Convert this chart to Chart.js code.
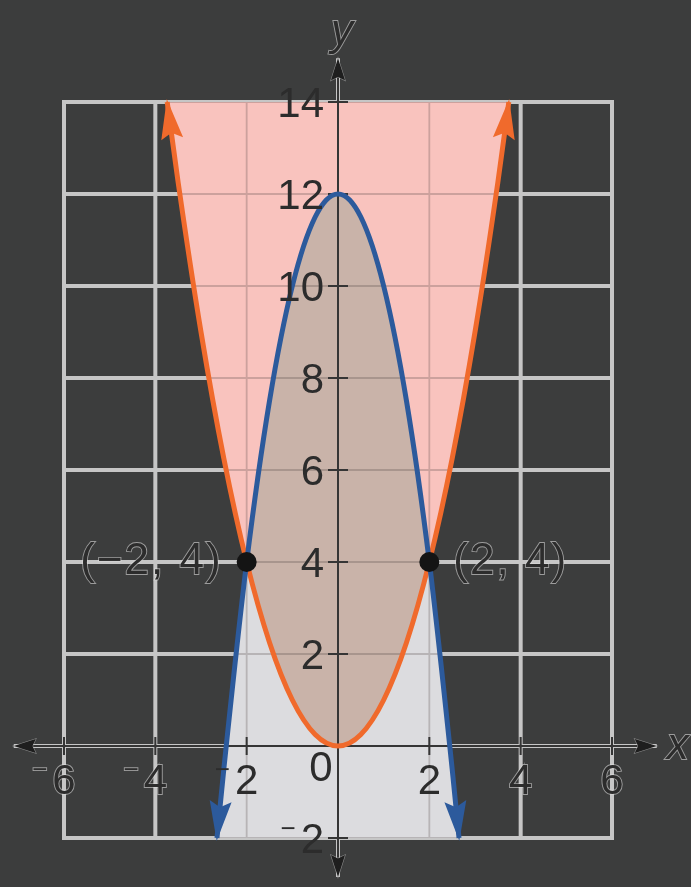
<!DOCTYPE html>
<html>
<head>
<meta charset="utf-8">
<title>y ≥ x² and y ≤ −2x² + 12</title>
<script src="https://cdn.jsdelivr.net/npm/chart.js@4.4.1/dist/chart.umd.min.js"></script>
<style>
  html, body { margin: 0; padding: 0; background: #3c3d3d; }
  canvas { display: block; }
</style>
</head>
<body>
<canvas id="graph" width="691" height="887"></canvas>
<script>
// orange curve, y = x^2 (shaded above)
const orangeX = [-3.74, -3.5, -3, -2.5, -2, -1.5, -1, -0.5, 0, 0.5, 1, 1.5, 2, 2.5, 3, 3.5, 3.74];
const orangeY = [14, 12.25, 9, 6.25, 4, 2.25, 1, 0.25, 0, 0.25, 1, 2.25, 4, 6.25, 9, 12.25, 14];

// blue curve, y = -2x^2 + 12 (shaded below)
const blueX = [-2.65, -2.5, -2, -1.5, -1, -0.5, 0, 0.5, 1, 1.5, 2, 2.5, 2.65];
const blueY = [-2, -0.5, 4, 7.5, 10, 11.5, 12, 11.5, 10, 7.5, 4, -0.5, -2];

// region where both hold, between the curves
const bothX = [-2, -1.5, -1, -0.5, 0, 0.5, 1, 1.5, 2];
const bothLow = [4, 2.25, 1, 0.25, 0, 0.25, 1, 2.25, 4];
const bothHigh = [4, 7.5, 10, 11.5, 12, 11.5, 10, 7.5, 4];

// intersection points
const pointX = [-2, 2];
const pointY = [4, 4];
const pointLabels = ['(−2, 4)', '(2, 4)'];

// grid and tick labels
const gridX = [-6, -4, -2, 0, 2, 4, 6];
const gridY = [-2, 0, 2, 4, 6, 8, 10, 12, 14];
const xTickLabels = [-6, -4, -2, 2, 4, 6];
const yTickLabels = [-2, 2, 4, 6, 8, 10, 12, 14];
const originLabel = '0';
const axisEnds = { xMin: -7.1, xMax: 6.98, yMin: -2.85, yMax: 14.95 };

const BG = '#3c3d3d';
const ORANGE = '#f06a2c';
const BLUE = '#2c5a9c';
const FONT = '"Liberation Sans", Arial, sans-serif';

const toPoints = (xs, ys) => xs.map((x, i) => ({ x, y: ys[i] }));

function drawGrid(ctx, sx, sy, width, color) {
  const top = sy.getPixelForValue(gridY[gridY.length - 1]);
  const bottom = sy.getPixelForValue(gridY[0]);
  const left = sx.getPixelForValue(gridX[0]);
  const right = sx.getPixelForValue(gridX[gridX.length - 1]);
  ctx.lineWidth = width;
  ctx.strokeStyle = color;
  ctx.beginPath();
  gridX.forEach(v => {
    const px = sx.getPixelForValue(v);
    ctx.moveTo(px, top - width / 2);
    ctx.lineTo(px, bottom + width / 2);
  });
  gridY.forEach(v => {
    const py = sy.getPixelForValue(v);
    ctx.moveTo(left - width / 2, py);
    ctx.lineTo(right + width / 2, py);
  });
  ctx.stroke();
}

function drawText(ctx, s, x, y, halo) {
  if (halo) {
    ctx.lineWidth = 1.8;
    ctx.strokeStyle = 'rgba(220,220,220,0.6)';
    ctx.strokeText(s, x, y);
  }
  ctx.fillStyle = '#2c2c2c';
  ctx.fillText(s, x, y);
}

// digits placed on the tick, a small raised minus hung to their left
function tickLabel(ctx, value, px, baseline, align, halo) {
  ctx.font = '42px ' + FONT;
  const digits = String(Math.abs(value));
  const w = ctx.measureText(digits).width;
  const left = align === 'center' ? px - w / 2 : px - w;
  ctx.textAlign = 'left';
  ctx.textBaseline = 'alphabetic';
  drawText(ctx, digits, left, baseline, halo);
  if (value < 0) {
    ctx.font = '26px ' + FONT;
    ctx.textAlign = 'right';
    ctx.textBaseline = 'middle';
    drawText(ctx, '−', left - 5, baseline - 23, halo);
  }
}

function arrowHead(ctx, tip, from, len, half, color, outline) {
  const dx = tip.x - from.x, dy = tip.y - from.y;
  const d = Math.hypot(dx, dy);
  const ux = dx / d, uy = dy / d;
  const bx = tip.x - ux * len, by = tip.y - uy * len;
  ctx.beginPath();
  ctx.moveTo(tip.x, tip.y);
  ctx.lineTo(bx - uy * half, by + ux * half);
  ctx.lineTo(tip.x - ux * len * 0.85, tip.y - uy * len * 0.85);
  ctx.lineTo(bx + uy * half, by - ux * half);
  ctx.closePath();
  if (outline) {
    ctx.lineWidth = 1.2;
    ctx.strokeStyle = outline;
    ctx.stroke();
  }
  ctx.fillStyle = color;
  ctx.fill();
}

const graphPaper = {
  id: 'graphPaper',
  beforeDatasetsDraw(chart) {
    const { ctx, scales: { x, y } } = chart;
    const orangeLine = chart.getDatasetMeta(4).dataset;
    const blueLine = chart.getDatasetMeta(3).dataset;
    const thin = 'rgba(70,60,60,0.25)';

    // faint grid on top of the shading: one pass outside the overlap, one inside
    ctx.save();
    ctx.beginPath();
    orangeLine.path(ctx); ctx.closePath();
    blueLine.path(ctx); ctx.closePath();
    ctx.clip('evenodd');
    drawGrid(ctx, x, y, 1.8, thin);
    ctx.restore();
    ctx.save();
    ctx.beginPath(); orangeLine.path(ctx); ctx.closePath(); ctx.clip();
    ctx.beginPath(); blueLine.path(ctx); ctx.closePath(); ctx.clip();
    drawGrid(ctx, x, y, 1.8, thin);
    ctx.restore();

    // heavy light grid and the page behind everything drawn so far
    ctx.save();
    ctx.globalCompositeOperation = 'destination-over';
    const x0 = x.getPixelForValue(0), y0 = y.getPixelForValue(0);
    ctx.lineWidth = 4;
    ctx.strokeStyle = '#c6c6c6';
    ctx.beginPath();
    ctx.moveTo(x.getPixelForValue(axisEnds.xMin), y0);
    ctx.lineTo(x.getPixelForValue(axisEnds.xMax), y0);
    ctx.moveTo(x0, y.getPixelForValue(axisEnds.yMax));
    ctx.lineTo(x0, y.getPixelForValue(axisEnds.yMin));
    ctx.stroke();
    drawGrid(ctx, x, y, 4, '#c6c6c6');
    ctx.fillStyle = BG;
    ctx.fillRect(0, 0, chart.width, chart.height);
    ctx.restore();

    // axes and tick marks
    ctx.save();
    ctx.lineWidth = 2;
    ctx.strokeStyle = '#353535';
    ctx.beginPath();
    ctx.moveTo(x.getPixelForValue(axisEnds.xMin) + 10, y0);
    ctx.lineTo(x.getPixelForValue(axisEnds.xMax) - 10, y0);
    ctx.moveTo(x0, y.getPixelForValue(axisEnds.yMax) + 10);
    ctx.lineTo(x0, y.getPixelForValue(axisEnds.yMin) - 10);
    xTickLabels.forEach(v => {
      const px = x.getPixelForValue(v);
      ctx.moveTo(px, y0 - 9);
      ctx.lineTo(px, y0 + 9);
    });
    yTickLabels.forEach(v => {
      const py = y.getPixelForValue(v);
      ctx.moveTo(x0 - 10, py);
      ctx.lineTo(x0 + 10, py);
    });
    ctx.stroke();
    ctx.restore();
  },
  afterDatasetsDraw(chart) {
    const { ctx, scales: { x, y } } = chart;
    const x0 = x.getPixelForValue(0), y0 = y.getPixelForValue(0);
    ctx.save();

    // arrowheads on both curves
    [[4, ORANGE], [3, BLUE]].forEach(([idx, color]) => {
      const pts = chart.getDatasetMeta(idx).data;
      const n = pts.length;
      [[pts[0], pts[1]], [pts[n - 1], pts[n - 2]]].forEach(([end, prev]) => {
        const d = Math.hypot(end.x - prev.x, end.y - prev.y);
        const tip = { x: end.x + (end.x - prev.x) / d * 3, y: end.y + (end.y - prev.y) / d * 3 };
        arrowHead(ctx, tip, prev, 40, 11, color);
      });
    });

    // axis arrows
    const ax = [
      [{ x: x.getPixelForValue(axisEnds.xMin), y: y0 }, { x: x0, y: y0 }],
      [{ x: x.getPixelForValue(axisEnds.xMax), y: y0 }, { x: x0, y: y0 }],
      [{ x: x0, y: y.getPixelForValue(axisEnds.yMax) }, { x: x0, y: y0 }],
      [{ x: x0, y: y.getPixelForValue(axisEnds.yMin) }, { x: x0, y: y0 }]
    ];
    ax.forEach(([tip, from]) => arrowHead(ctx, tip, from, 22, 7, '#1e1e1e', 'rgba(210,210,210,0.5)'));

    // tick labels
    xTickLabels.forEach(v => {
      tickLabel(ctx, v, x.getPixelForValue(v), y0 + 48, 'center', Math.abs(v) >= 4);
    });
    yTickLabels.forEach(v => {
      tickLabel(ctx, v, x0 - 14, y.getPixelForValue(v) + 15, 'right', false);
    });
    ctx.font = '42px ' + FONT;
    ctx.textAlign = 'center';
    ctx.textBaseline = 'middle';
    drawText(ctx, originLabel, x0 - 17, y0 + 23, false);

    // axis names
    ctx.font = 'italic 44px ' + FONT;
    drawText(ctx, 'y', x.getPixelForValue(0.09), y.getPixelForValue(15.5), true);
    drawText(ctx, 'x', x.getPixelForValue(7.44), y.getPixelForValue(-0.02), true);

    // point labels
    ctx.font = '44px ' + FONT;
    ctx.letterSpacing = '2px';
    pointX.forEach((v, i) => {
      const px = x.getPixelForValue(v), py = y.getPixelForValue(pointY[i]);
      ctx.textAlign = v < 0 ? 'right' : 'left';
      drawText(ctx, pointLabels[i], v < 0 ? px - 24 : px + 24, py, true);
    });
    ctx.restore();
  }
};

new Chart(document.getElementById('graph'), {
  type: 'line',
  data: {
    datasets: [
      {
        label: 'intersections',
        data: toPoints(pointX, pointY),
        showLine: false,
        pointRadius: 10,
        pointBackgroundColor: '#141414',
        pointBorderWidth: 0,
        borderColor: 'transparent'
      },
      {
        label: 'both',
        data: toPoints(bothX, bothLow),
        borderWidth: 0,
        borderColor: 'transparent',
        backgroundColor: '#c9b3a9',
        fill: '+1'
      },
      {
        label: 'both upper',
        data: toPoints(bothX, bothHigh),
        borderWidth: 0,
        borderColor: 'transparent',
        fill: false
      },
      {
        label: 'y = -2x² + 12',
        data: toPoints(blueX, blueY),
        borderColor: BLUE,
        borderWidth: 5,
        backgroundColor: '#dcdcdf',
        fill: 'start',
        clip: false
      },
      {
        label: 'y = x²',
        data: toPoints(orangeX, orangeY),
        borderColor: ORANGE,
        borderWidth: 5,
        backgroundColor: '#f9c3be',
        fill: 'end',
        clip: false
      }
    ]
  },
  options: {
    responsive: false,
    animation: false,
    events: [],
    layout: { padding: { left: 64, right: 79, top: 102, bottom: 49 } },
    scales: {
      x: { type: 'linear', min: -6, max: 6, display: false },
      y: { type: 'linear', min: -2, max: 14, display: false }
    },
    elements: {
      line: { cubicInterpolationMode: 'monotone' },
      point: { radius: 0 }
    },
    plugins: {
      legend: { display: false },
      tooltip: { enabled: false },
      filler: { drawTime: 'beforeDatasetsDraw' }
    }
  },
  plugins: [graphPaper]
});
</script>
</body>
</html>
